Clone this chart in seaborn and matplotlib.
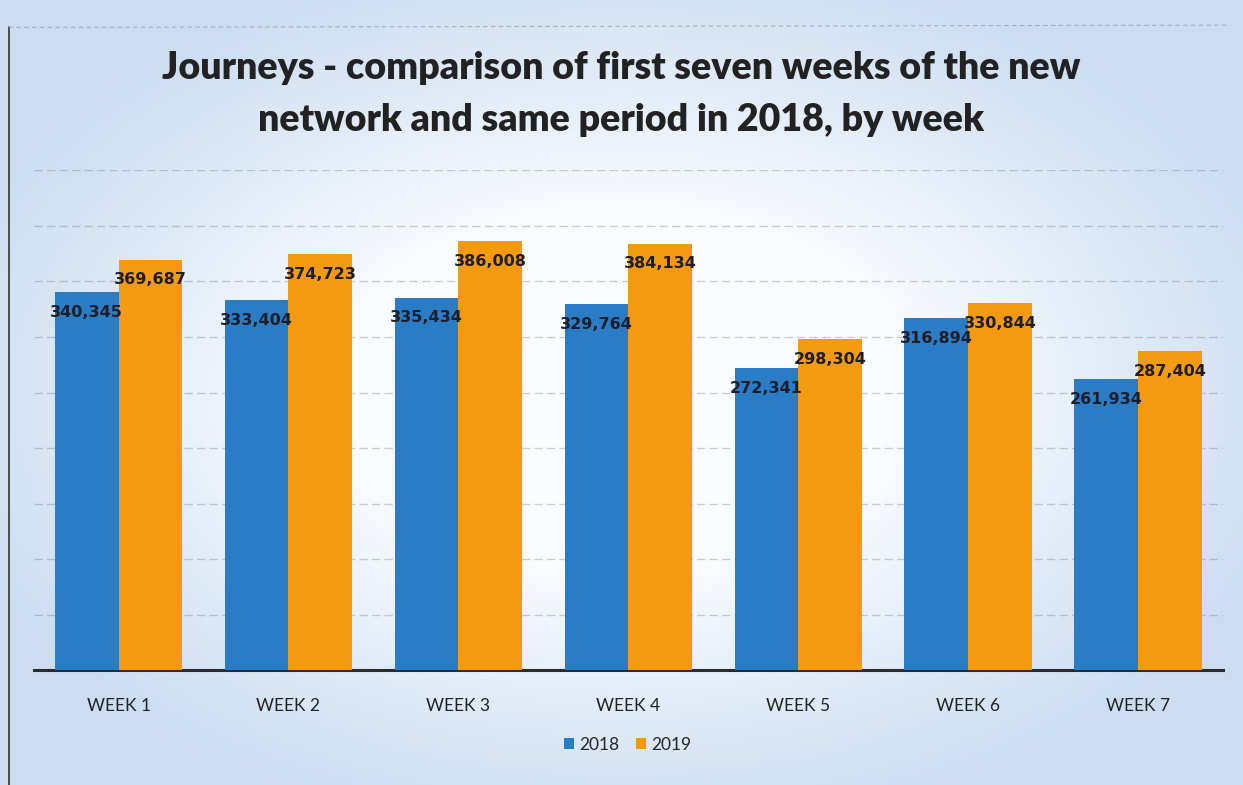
import numpy as np
import pandas as pd
import matplotlib
matplotlib.use("Agg")
import matplotlib.pyplot as plt
from matplotlib.patches import Patch
from matplotlib.lines import Line2D
import seaborn as sns

weeks = ["WEEK 1", "WEEK 2", "WEEK 3", "WEEK 4", "WEEK 5", "WEEK 6", "WEEK 7"]
journeys_2018 = [340345, 333404, 335434, 329764, 272341, 316894, 261934]
journeys_2019 = [369687, 374723, 386008, 384134, 298304, 330844, 287404]
years = ["2018", "2019"]

df = pd.DataFrame({
    "week": weeks * 2,
    "year": [years[0]] * len(weeks) + [years[1]] * len(weeks),
    "journeys": journeys_2018 + journeys_2019,
})

sns.set_theme(style="white")
plt.rcParams["font.family"] = ["Lato", "DejaVu Sans"]

palette = {"2018": "#2a7cc4", "2019": "#f39a10"}

fig = plt.figure(figsize=(12.43, 7.85), dpi=100)

# soft bluish paper tone around a lighter centre
bg = fig.add_axes([0, 0, 1, 1], zorder=-10)
yy, xx = np.mgrid[0:1:200j, 0:1:320j]
r = np.sqrt(((xx - 0.5) / 0.62) ** 2 + ((yy - 0.5) / 0.62) ** 2)
t = np.clip((r - 0.35) / 0.55, 0, 1)[..., None]
inner = np.array([0.985, 0.99, 1.0])
outer = np.array([0.80, 0.87, 0.95])
img = inner * (1 - t) + outer * t
bg.imshow(img, extent=[0, 1, 0, 1], aspect="auto", origin="lower")
bg.set_axis_off()

# chart frame edges
fig.add_artist(Line2D([0.007, 0.007], [0.0, 0.965], color="#333333", lw=1.2))
fig.add_artist(Line2D([0.007, 0.99], [0.965, 0.968], color="#999999", lw=0.8,
                      ls=(0, (4, 3)), alpha=0.7))

ax = fig.add_axes([0.027, 0.146, 0.957, 0.637])
ax.set_facecolor("none")

sns.barplot(data=df, x="week", y="journeys", hue="year", palette=palette,
            width=0.75, saturation=1, ax=ax, legend=False, zorder=3,
            edgecolor="none")

ax.set_ylim(0, 450000)
ax.set_yticks(np.arange(50000, 450001, 50000))
ax.yaxis.grid(True, color="#6f7680", lw=1.0, ls=(0, (6, 3)), alpha=0.35, zorder=0)
ax.set_yticklabels([])
ax.tick_params(axis="y", length=0)
ax.tick_params(axis="x", length=0, pad=20, labelsize=12.5, labelcolor="#222222")
ax.set_xlabel("")
ax.set_ylabel("")
for side in ["top", "right", "left"]:
    ax.spines[side].set_visible(False)
ax.spines["bottom"].set_color("#2b2b2b")
ax.spines["bottom"].set_linewidth(2.2)

for container in ax.containers:
    ax.bar_label(container, fmt="{:,.0f}", label_type="edge", padding=-20,
                 fontsize=11.5, fontweight="bold", color="#1e1e2a",
                 family=["DejaVu Sans"])

fig.text(0.50, 0.913, "Journeys - comparison of first seven weeks of the new",
         ha="center", va="center", fontsize=27, fontweight="heavy", color="#222222")
fig.text(0.50, 0.847, "network and same period in 2018, by week",
         ha="center", va="center", fontsize=27, fontweight="heavy", color="#222222")

handles = [Patch(facecolor=palette[y], edgecolor="none", label=y) for y in years]
fig.legend(handles=handles, loc="center", bbox_to_anchor=(0.505, 0.051), ncol=2,
           frameon=False, fontsize=12.5, handlelength=0.55, handleheight=0.6,
           handletextpad=0.3, columnspacing=1.0)

fig.savefig("out.png", dpi=100)
